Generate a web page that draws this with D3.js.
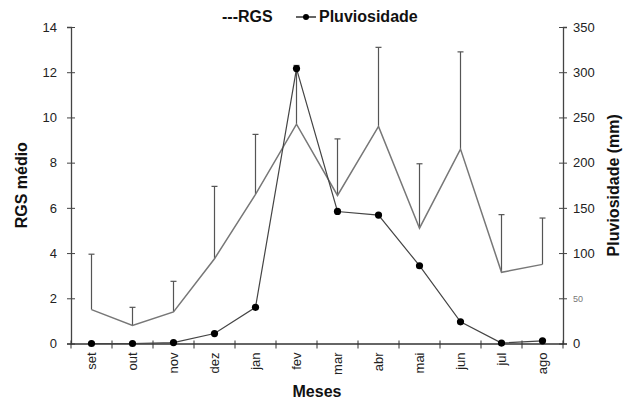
<!DOCTYPE html>
<html>
<head>
<meta charset="utf-8">
<script src="https://cdn.jsdelivr.net/npm/d3@7"></script>
<style>
  body { margin: 0; background: #fff; }
  text { font-family: Arial, "Liberation Sans", sans-serif; }
</style>
</head>
<body>
<div id="vis"></div>
<script>
// dados
const meses = ['set', 'out', 'nov', 'dez', 'jan', 'fev', 'mar', 'abr', 'mai', 'jun', 'jul', 'ago'];
const rgsMedio = [1.5, 0.8, 1.4, 3.75, 6.6, 9.7, 6.55, 9.6, 5.1, 8.6, 3.15, 3.5];
const rgsErroTopo = [3.95, 1.6, 2.75, 6.95, 9.25, 12.3, 9.05, 13.1, 7.95, 12.9, 5.7, 5.55];
const pluviosidade = [0, 0, 1, 11, 40, 304, 146, 142, 86, 24, 0.5, 3];
const ticksRgs = [0, 2, 4, 6, 8, 10, 12, 14];
const ticksPluv = [0, 50, 100, 150, 200, 250, 300, 350];

const WIDTH = 633;
const HEIGHT = 401;
const MARGIN = { top: 27, bottom: 57.5, left: 71, right: 70 };

const SVG = d3.select('#vis').append('svg')
  .attr('width', WIDTH)
  .attr('height', HEIGHT);

const x = d3.scaleBand()
  .domain(meses)
  .range([MARGIN.left, WIDTH - MARGIN.right]);

const yRgs = d3.scaleLinear()
  .domain([0, 14])
  .range([HEIGHT - MARGIN.bottom, MARGIN.top]);

const yPluv = d3.scaleLinear()
  .domain([0, 350])
  .range([HEIGHT - MARGIN.bottom, MARGIN.top]);

const cx = (d) => x(d) + x.bandwidth() / 2;

// eixos
const eixoEsq = SVG.append('g')
  .attr('transform', `translate(${MARGIN.left},0)`)
  .call(d3.axisLeft(yRgs).tickValues(ticksRgs).tickSize(4).tickPadding(10));

const eixoDir = SVG.append('g')
  .attr('transform', `translate(${WIDTH - MARGIN.right},0)`)
  .call(d3.axisRight(yPluv).tickValues(ticksPluv).tickSize(4).tickPadding(6));

const eixoX = SVG.append('g')
  .attr('transform', `translate(0,${HEIGHT - MARGIN.bottom})`)
  .call(d3.axisBottom(x).tickSize(0).tickPadding(6));

[eixoEsq, eixoDir].forEach((g) => {
  g.select('.domain').attr('stroke', '#444').attr('stroke-width', 1.3);
  g.selectAll('.tick line')
    .attr('x1', -4).attr('x2', 4)
    .attr('stroke', '#444');
  g.selectAll('.tick text')
    .attr('font-size', 13)
    .attr('fill', '#222');
});

eixoDir.selectAll('.tick text')
  .filter((d) => d === 50)
  .attr('font-size', 9)
  .attr('fill', '#777');

eixoX.select('.domain').attr('stroke', '#333').attr('stroke-width', 1.3);
eixoX.selectAll('.tick text')
  .attr('font-size', 13)
  .attr('fill', '#222')
  .attr('text-anchor', 'end')
  .attr('transform', 'rotate(-90)')
  .attr('x', -9)
  .attr('y', 0)
  .attr('dy', '0.35em');

// marcas entre os meses
const limites = meses.map((m) => x(m)).concat([WIDTH - MARGIN.right]);
SVG.append('g')
  .selectAll('line')
  .data(limites)
  .join('line')
  .attr('x1', (d) => d)
  .attr('x2', (d) => d)
  .attr('y1', HEIGHT - MARGIN.bottom - 3)
  .attr('y2', HEIGHT - MARGIN.bottom + 5)
  .attr('stroke', '#333')
  .attr('stroke-width', 1);

// barras de erro do RGS
const erros = SVG.append('g').attr('stroke', '#555').attr('stroke-width', 1.2);
erros.selectAll('line.v')
  .data(meses)
  .join('line')
  .attr('class', 'v')
  .attr('x1', cx)
  .attr('x2', cx)
  .attr('y1', (d, i) => yRgs(rgsMedio[i]))
  .attr('y2', (d, i) => yRgs(rgsErroTopo[i]));
erros.selectAll('line.c')
  .data(meses)
  .join('line')
  .attr('class', 'c')
  .attr('x1', (d) => cx(d) - 3)
  .attr('x2', (d) => cx(d) + 3)
  .attr('y1', (d, i) => yRgs(rgsErroTopo[i]))
  .attr('y2', (d, i) => yRgs(rgsErroTopo[i]));

// linha do RGS
SVG.append('path')
  .datum(meses)
  .attr('fill', 'none')
  .attr('stroke', '#777')
  .attr('stroke-width', 1.5)
  .attr('d', d3.line().x(cx).y((d, i) => yRgs(rgsMedio[i])));

// linha da pluviosidade
SVG.append('path')
  .datum(meses)
  .attr('fill', 'none')
  .attr('stroke', '#444')
  .attr('stroke-width', 1.2)
  .attr('d', d3.line().x(cx).y((d, i) => yPluv(pluviosidade[i])));

SVG.append('g')
  .selectAll('circle')
  .data(meses)
  .join('circle')
  .attr('cx', cx)
  .attr('cy', (d, i) => yPluv(pluviosidade[i]))
  .attr('r', 3.6)
  .attr('fill', '#000');

// títulos dos eixos
SVG.append('text')
  .attr('transform', `translate(27,${(MARGIN.top + HEIGHT - MARGIN.bottom) / 2}) rotate(-90)`)
  .attr('text-anchor', 'middle')
  .attr('font-size', 16)
  .attr('font-weight', 'bold')
  .attr('fill', '#111')
  .text('RGS médio');

SVG.append('text')
  .attr('transform', `translate(619,${(MARGIN.top + HEIGHT - MARGIN.bottom) / 2}) rotate(-90)`)
  .attr('text-anchor', 'middle')
  .attr('font-size', 16)
  .attr('font-weight', 'bold')
  .attr('fill', '#111')
  .text('Pluviosidade (mm)');

SVG.append('text')
  .attr('x', 317)
  .attr('y', 397)
  .attr('text-anchor', 'middle')
  .attr('font-size', 16)
  .attr('font-weight', 'bold')
  .attr('fill', '#111')
  .text('Meses');

// legenda
const leg = SVG.append('g');
leg.append('text')
  .attr('x', 222)
  .attr('y', 22)
  .attr('font-size', 16)
  .attr('font-weight', 'bold')
  .attr('fill', '#111')
  .text('---RGS');
leg.append('line')
  .attr('x1', 296).attr('x2', 316)
  .attr('y1', 17).attr('y2', 17)
  .attr('stroke', '#111').attr('stroke-width', 1.3);
leg.append('circle')
  .attr('cx', 306).attr('cy', 17).attr('r', 3)
  .attr('fill', '#000');
leg.append('text')
  .attr('x', 319)
  .attr('y', 22)
  .attr('font-size', 16)
  .attr('font-weight', 'bold')
  .attr('fill', '#111')
  .text('Pluviosidade');
</script>
</body>
</html>
